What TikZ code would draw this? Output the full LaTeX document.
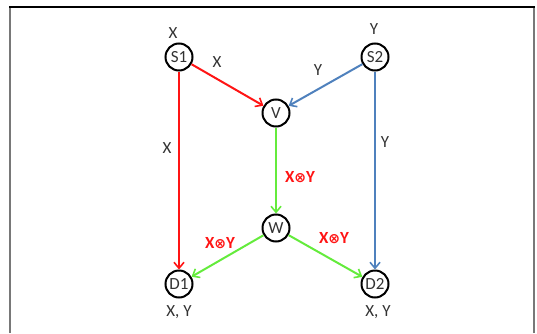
\documentclass[tikz,border=0pt]{standalone}
\usepackage{fontspec}
\setmainfont{Carlito}
\newfontfamily\symfnt{DejaVu Sans}
\usetikzlibrary{arrows.meta}
\definecolor{ered}{RGB}{255,20,20}
\definecolor{eblue}{RGB}{79,129,189}
\definecolor{egreen}{RGB}{100,235,60}
\definecolor{txt}{RGB}{50,50,50}
\definecolor{frame}{RGB}{120,120,120}
\newcommand{\xoy}{X{\symfnt\fontsize{14}{15}\selectfont\bfseries ⊗}Y}
\begin{document}
\begin{tikzpicture}[x=1pt,y=1pt,
  vert/.style={circle,draw=black,line width=2pt,minimum size=27pt,inner sep=0pt,text=txt,font=\fontsize{17}{19}\selectfont},
  lbl/.style={text=txt,font=\fontsize{17}{19}\selectfont,inner sep=0pt},
  rlbl/.style={text=ered,font=\fontsize{17}{19}\selectfont\bfseries,inner sep=0pt},
  edge/.style={line width=2pt,-{Straight Barb[length=6pt,width=10pt,line width=1.6pt]}}]
\useasboundingbox (0,0) rectangle (537,333);
\draw[frame,line width=2pt] (10,0) -- (10,326);
\draw[frame,line width=2pt] (534,0) -- (534,326);
\draw[black,line width=1.2pt] (9,326) -- (535,326);
\node[vert] (S1) at (179,276) {S1};
\node[vert] (S2) at (375,276) {S2};
\node[vert] (V) at (276,220) {V};
\node[vert] (W) at (276,105) {W};
\node[vert] (D1) at (179,49) {D1};
\node[vert] (D2) at (375,49) {D2};
\node[lbl] (lx) at (173,300) {X};
\node[lbl] (ly) at (374,304) {Y};
\node[lbl] (ex) at (217,271) {X};
\node[lbl] (ey) at (318,263) {Y};
\node[lbl] (lxl) at (167,185) {X};
\node[lbl] (lyr) at (385,191) {Y};
\node[rlbl] (m1) at (300,156) {\xoy};
\node[rlbl] (m2) at (220,90) {\xoy};
\node[rlbl] (m3) at (334,95) {\xoy};
\node[lbl] (d1l) at (179,21) {X, Y};
\node[lbl] (d2l) at (378,21) {X, Y};
\draw[edge,ered] (S1) -- (V);
\draw[edge,eblue] (S2) -- (V);
\draw[edge,ered] (S1) -- (D1);
\draw[edge,eblue] (S2) -- (D2);
\draw[edge,egreen] (V) -- (W);
\draw[edge,egreen] (W) -- (D1);
\draw[edge,egreen] (W) -- (D2);
\end{tikzpicture}
\end{document}
